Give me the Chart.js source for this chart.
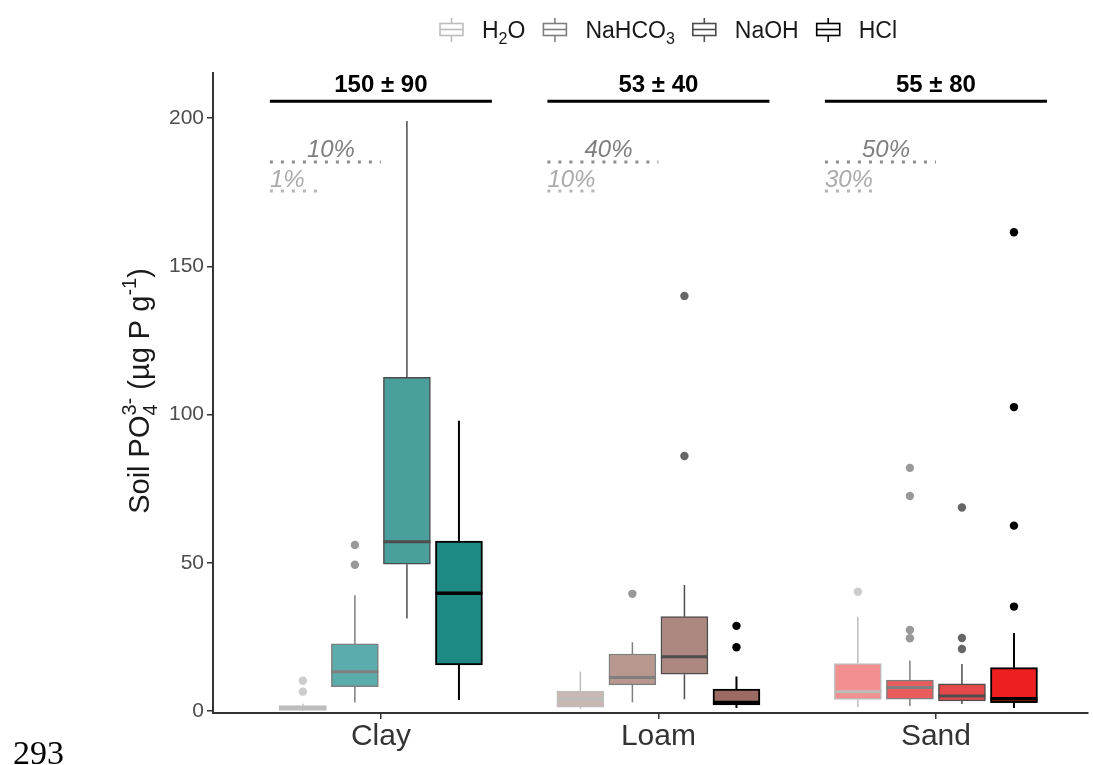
<!DOCTYPE html>
<html>
<head>
<meta charset="utf-8">
<script src="https://cdn.jsdelivr.net/npm/chart.js@4.4.1/dist/chart.umd.min.js"></script>
<style>
  html, body { margin: 0; padding: 0; background: #fff; }
</style>
</head>
<body>
<canvas id="chart" width="1093" height="765"></canvas>
<script>
const soils = ['Clay', 'Loam', 'Sand'];
const methods = ['H₂O', 'NaHCO₃', 'NaOH', 'HCl'];

// per soil: [lower whisker, q1, median, q3, upper whisker]
const h2oStats    = [[0, 0.2, 0.8, 1.8, 2.4], [0.7, 1.3, 4, 6.7, 13.3], [1.3, 3.9, 6.5, 16, 31.8]];
const nahco3Stats = [[2.8, 8.2, 13.2, 22.6, 39], [2.9, 8.8, 11.3, 19.2, 23.2], [1.7, 4.0, 7.9, 10.4, 17]];
const naohStats   = [[31.2, 49.5, 57.1, 112.5, 199], [3.9, 12.4, 18.3, 31.8, 42.5], [2.3, 3.4, 5, 9.1, 15.8]];
const hclStats    = [[3.7, 15.5, 39.7, 57.3, 97.9], [1, 2, 2.8, 7.4, 11.6], [1, 2.8, 4.1, 14.6, 26.3]];

const h2oOutliers    = [[6.5, 10.2], [], [40.2]];
const nahco3Outliers = [[49.3, 56], [39.5], [24.5, 27.3, 72.5, 82]];
const naohOutliers   = [[], [86, 140], [20.9, 24.6, 68.6]];
const hclOutliers    = [[], [21.5, 28.7], [35.2, 62.5, 102.5, 161.5]];

const totals  = ['150 ± 90', '53 ± 40', '55 ± 80'];
const shareHi = ['10%', '40%', '50%'];
const shareLo = ['1%', '10%', '30%'];

const yTicks = [0, 50, 100, 150, 200];
const yTitle = 'Soil PO₄³⁻ (µg P g⁻¹)';
const pageNo = '293';

// styling
const FONT = '"Liberation Sans", Arial, sans-serif';
const fills = {
    Clay: ['#b9bfbf', '#5aadac', '#4a9f9d', '#1f8984'],
    Loam: ['#c9b7b3', '#b8978f', '#ac8880', '#9b6b63'],
    Sand: ['#f28f8f', '#e95c5c', '#e44949', '#ee1f1f'],
};
const edges = ['#bdbdbd', '#7f7f7f', '#4d4d4d', '#000000'];
const dots  = ['#cccccc', '#999999', '#666666', '#000000'];
const dodge = [-0.28125, -0.09375, 0.09375, 0.28125];

const statsByMethod = [h2oStats, nahco3Stats, naohStats, hclStats];
const outliersByMethod = [h2oOutliers, nahco3Outliers, naohOutliers, hclOutliers];

const SUB = '₀₁₂₃₄₅₆₇₈₉';
const SUP = '⁰¹²³⁴⁵⁶⁷⁸⁹⁻';

function richRuns(text) {
    const runs = [];
    for (const ch of text) {
        let kind = 'n', c = ch, k = SUB.indexOf(ch);
        if (k >= 0) { kind = 'sub'; c = String(k); }
        else if ((k = SUP.indexOf(ch)) >= 0) { kind = 'sup'; c = k === 10 ? '-' : String(k); }
        const last = runs[runs.length - 1];
        if (last && last.kind === kind) last.t += c; else runs.push({ t: c, kind });
    }
    return runs;
}

// draws text with sub/superscripts; a superscript right after a subscript is stacked on it
function drawRich(ctx, text, x, y, size, align) {
    const runs = richRuns(text);
    const small = Math.round(size * 0.68);
    const items = [];
    let cx = 0;
    runs.forEach((r, i) => {
        const fs = r.kind === 'n' ? size : small;
        ctx.font = `${fs}px ${FONT}`;
        const w = ctx.measureText(r.t).width;
        const dy = r.kind === 'sub' ? size * 0.28 : r.kind === 'sup' ? -size * 0.45 : 0;
        const prev = runs[i - 1];
        if (r.kind === 'sup' && prev && prev.kind === 'sub') {
            const p = items[items.length - 1];
            items.push({ t: r.t, fs, x: p.x, dy });
            cx = Math.max(cx, p.x + w);
        } else {
            items.push({ t: r.t, fs, x: cx, dy });
            cx += w;
        }
    });
    const start = align === 'center' ? x - cx / 2 : x;
    items.forEach(it => {
        ctx.font = `${it.fs}px ${FONT}`;
        ctx.fillText(it.t, start + it.x, y + it.dy);
    });
    return cx;
}

const boxSets = methods.map((m, i) => ({
    type: 'bar',
    label: m,
    data: statsByMethod[i].map((s, g) => ({ x: g + 1 + dodge[i], y: [s[1], s[3]] })),
    backgroundColor: soils.map(s => fills[s][i]),
    borderColor: edges[i],
    borderWidth: i === 3 ? 2 : 1.5,
    borderSkipped: false,
    barThickness: 47,
    grouped: false,
    order: 2,
}));

const dotSets = methods.map((m, i) => ({
    type: 'scatter',
    label: m + ' outliers',
    data: outliersByMethod[i].flatMap((vals, g) => vals.map(v => ({ x: g + 1 + dodge[i], y: v }))),
    pointRadius: 4.2,
    pointBackgroundColor: dots[i],
    pointBorderWidth: 0,
    order: 1,
}));

const boxParts = {
    id: 'boxParts',
    afterDatasetsDraw(chart) {
        const { ctx, scales: { x, y } } = chart;
        ctx.save();
        statsByMethod.forEach((stats, i) => {
            const meta = chart.getDatasetMeta(i);
            stats.forEach((s, g) => {
                const px = x.getPixelForValue(g + 1 + dodge[i]);
                const half = meta.data[g].width / 2;
                ctx.strokeStyle = edges[i];
                ctx.lineWidth = i === 3 ? 2 : 1.5;
                ctx.beginPath();
                ctx.moveTo(px, y.getPixelForValue(s[3]));
                ctx.lineTo(px, y.getPixelForValue(s[4]));
                ctx.moveTo(px, y.getPixelForValue(s[1]));
                ctx.lineTo(px, y.getPixelForValue(s[0]));
                ctx.stroke();
                ctx.lineWidth = i === 3 ? 3.5 : 3;
                ctx.beginPath();
                ctx.moveTo(px - half, y.getPixelForValue(s[2]));
                ctx.lineTo(px + half, y.getPixelForValue(s[2]));
                ctx.stroke();
            });
        });
        ctx.restore();
    },
};

const groupNotes = {
    id: 'groupNotes',
    afterDatasetsDraw(chart) {
        const { ctx, scales: { x, y } } = chart;
        ctx.save();
        ctx.textBaseline = 'alphabetic';
        soils.forEach((s, g) => {
            const c = g + 1;
            // total
            ctx.fillStyle = '#000';
            ctx.textAlign = 'center';
            ctx.font = `bold 24px ${FONT}`;
            ctx.fillText(totals[g], x.getPixelForValue(c), y.getPixelForValue(208.8));
            ctx.strokeStyle = '#000';
            ctx.lineWidth = 3;
            ctx.setLineDash([]);
            ctx.beginPath();
            ctx.moveTo(x.getPixelForValue(c - 0.4), y.getPixelForValue(205.7));
            ctx.lineTo(x.getPixelForValue(c + 0.4), y.getPixelForValue(205.7));
            ctx.stroke();
            // dotted shares
            ctx.lineWidth = 3;
            ctx.setLineDash([3, 8]);
            ctx.strokeStyle = '#8c8c8c';
            ctx.beginPath();
            ctx.moveTo(x.getPixelForValue(c - 0.4), y.getPixelForValue(185.2));
            ctx.lineTo(x.getPixelForValue(c), y.getPixelForValue(185.2));
            ctx.stroke();
            ctx.strokeStyle = '#b5b5b5';
            ctx.beginPath();
            ctx.moveTo(x.getPixelForValue(c - 0.4), y.getPixelForValue(175.4));
            ctx.lineTo(x.getPixelForValue(c - 0.21), y.getPixelForValue(175.4));
            ctx.stroke();
            ctx.font = `italic 24px ${FONT}`;
            ctx.fillStyle = '#7f7f7f';
            ctx.textAlign = 'center';
            ctx.fillText(shareHi[g], x.getPixelForValue(c - 0.18), y.getPixelForValue(186.8));
            ctx.fillStyle = '#ababab';
            ctx.textAlign = 'left';
            ctx.fillText(shareLo[g], x.getPixelForValue(c - 0.4), y.getPixelForValue(176.7));
        });
        ctx.restore();
    },
};

// legend keys, axis title and page number
const extras = {
    id: 'extras',
    afterDraw(chart) {
        const { ctx } = chart;
        ctx.save();
        ctx.textBaseline = 'alphabetic';
        ctx.textAlign = 'left';
        let lx = 440;
        methods.forEach((m, i) => {
            ctx.strokeStyle = edges[i];
            ctx.fillStyle = '#fff';
            ctx.lineWidth = 1.6;
            ctx.beginPath();
            ctx.moveTo(lx + 11.5, 18); ctx.lineTo(lx + 11.5, 42);
            ctx.stroke();
            ctx.fillRect(lx, 23.5, 23, 12);
            ctx.strokeRect(lx, 23.5, 23, 12);
            ctx.beginPath();
            ctx.moveTo(lx, 29.5); ctx.lineTo(lx + 23, 29.5);
            ctx.stroke();
            ctx.fillStyle = '#1a1a1a';
            const w = drawRich(ctx, m, lx + 42, 37.5, 23, 'left');
            lx += 42 + w + 18;
        });

        ctx.save();
        ctx.translate(149, 391);
        ctx.rotate(-Math.PI / 2);
        ctx.fillStyle = '#1a1a1a';
        drawRich(ctx, yTitle, 0, 0, 29, 'center');
        ctx.restore();

        ctx.fillStyle = '#000';
        ctx.font = '34px "Liberation Serif", "Times New Roman", serif';
        ctx.fillText(pageNo, 13, 764);
        ctx.restore();
    },
};

new Chart(document.getElementById('chart'), {
    type: 'bar',
    data: { datasets: [...boxSets, ...dotSets] },
    options: {
        responsive: false,
        animation: false,
        events: [],
        layout: { padding: { top: 73, left: 0, right: 5, bottom: 0 } },
        plugins: {
            legend: { display: false },
            tooltip: { enabled: false },
        },
        scales: {
            x: {
                type: 'linear',
                min: 0.395,
                max: 3.548,
                offset: false,
                afterBuildTicks: scale => { scale.ticks = soils.map((s, i) => ({ value: i + 1 })); },
                afterFit: scale => { scale.height = 52; },
                ticks: {
                    callback: (v, i) => soils[i],
                    color: '#333',
                    font: { family: FONT, size: 30 },
                    padding: 0,
                    maxRotation: 0,
                },
                grid: { offset: false, drawOnChartArea: false, drawTicks: true, tickLength: 6, color: '#333', lineWidth: 1.5 },
                border: { display: true, color: '#333', width: 2 },
            },
            y: {
                min: -0.7,
                max: 215.2,
                afterBuildTicks: scale => { scale.ticks = yTicks.map(v => ({ value: v })); },
                afterFit: scale => { scale.width = 213; },
                ticks: {
                    color: '#4d4d4d',
                    font: { family: FONT, size: 21 },
                    padding: 3,
                },
                grid: { drawOnChartArea: false, drawTicks: true, tickLength: 6, color: '#333', lineWidth: 1.5 },
                border: { display: true, color: '#333', width: 2 },
            },
        },
    },
    plugins: [boxParts, groupNotes, extras],
});
</script>
</body>
</html>
